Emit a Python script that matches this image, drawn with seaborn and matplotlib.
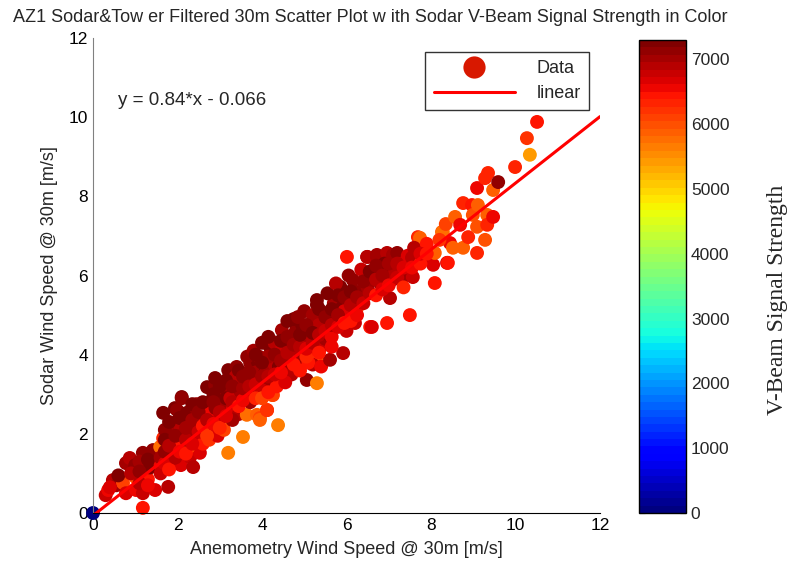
import numpy as np
import pandas as pd
import matplotlib
matplotlib.use("Agg")
import matplotlib.pyplot as plt
from matplotlib.lines import Line2D
from matplotlib.colors import Normalize
from matplotlib.cm import ScalarMappable
import seaborn as sns

# ---------------- data ----------------
x1 = [0.0, 0.3, 0.36, 0.47, 0.55, 0.71, 0.78, 0.78, 0.87, 1.0, 1.0, 1.02, 1.18, 1.18, 1.18, 1.25, 1.42, 1.47, 1.5, 0.6, 0.9, 1.1, 1.3, 0.4, 1.35]
y1 = [0.0, 0.45, 0.58, 0.83, 0.7, 0.76, 0.5, 1.26, 1.39, 1.21, 0.91, 0.58, 1.52, 0.5, 0.13, 1.01, 1.59, 0.58, 1.29, 0.95, 1.0, 1.3, 0.85, 0.65, 1.15]
s1 = [100, 6800, 6600, 6850, 7050, 6050, 6700, 7000, 6900, 7100, 5950, 6600, 7100, 6800, 6450, 6150, 7100, 6700, 7050, 7200, 6850, 7000, 6500, 6700, 7200]

x2 = [1.59, 1.66, 1.66, 1.78, 1.82, 1.89, 1.94, 1.99, 1.99, 2.08, 2.08, 2.1, 2.1, 2.13, 2.22, 2.22, 2.3, 2.37, 2.37, 2.46, 2.53, 2.53, 1.6, 1.75, 1.9, 2.0, 2.15, 2.3, 2.4, 2.5, 1.7, 2.25, 1.85, 2.45]
y2 = [1.67, 1.89, 2.53, 0.66, 1.26, 2.02, 2.65, 2.22, 2.6, 2.17, 1.21, 2.93, 2.9, 1.77, 2.43, 2.53, 1.41, 2.22, 1.16, 2.6, 1.52, 1.84, 1.2, 1.45, 1.6, 1.75, 2.0, 2.0, 1.9, 2.3, 2.1, 1.65, 1.35, 2.75]
s2 = [5750, 6350, 7200, 6900, 6850, 7000, 7200, 7050, 7100, 6900, 6700, 7200, 7100, 6500, 7000, 7250, 6800, 7050, 6850, 7100, 6700, 6450, 6600, 6200, 6850, 6500, 7050, 6700, 7000, 7250, 7100, 6150, 6800, 7050]

x3 = [2.7, 2.7, 2.77, 2.79, 2.89, 2.89, 3.0, 3.05, 3.08, 3.2, 3.2, 3.24, 3.4, 3.43, 3.48, 2.6, 2.65, 2.8, 2.9, 3.0, 3.1, 3.15, 3.3, 3.35, 3.45, 2.6, 2.75, 2.95, 3.1, 3.3, 2.85, 3.25, 3.5, 3.38]
y3 = [3.18, 2.78, 2.1, 2.27, 3.23, 3.41, 2.98, 2.27, 2.27, 1.52, 3.61, 3.11, 3.69, 2.85, 3.28, 2.0, 2.45, 2.55, 2.65, 2.4, 2.7, 2.9, 2.6, 3.0, 2.5, 1.75, 1.85, 1.95, 2.1, 2.35, 3.0, 2.9, 3.05, 3.45]
s3 = [7200, 7050, 7000, 6850, 7100, 7250, 7050, 5700, 5750, 5650, 7200, 7000, 7100, 6850, 7250, 6900, 6700, 6600, 7100, 6800, 7050, 7200, 6700, 7000, 6850, 6500, 6250, 6700, 6050, 7000, 7200, 6800, 7050, 6900]

x4 = [3.55, 3.64, 3.72, 3.72, 3.72, 3.88, 3.9, 3.95, 3.95, 3.95, 4.12, 4.12, 4.19, 4.19, 4.19, 4.24, 4.26, 4.38, 4.43, 4.47, 4.47, 4.5, 3.6, 3.7, 3.8, 3.85, 4.0, 4.05, 4.1, 4.2, 4.3, 4.35, 4.4, 3.65, 3.8, 4.0, 4.15, 4.3, 3.5, 4.45]
y4 = [1.92, 2.48, 2.8, 3.44, 3.79, 2.48, 3.82, 2.4, 2.35, 3.94, 2.6, 2.6, 3.28, 4.19, 4.37, 2.98, 2.98, 2.22, 3.99, 3.36, 4.62, 3.44, 3.1, 3.0, 3.3, 3.55, 3.1, 3.5, 3.7, 3.55, 3.75, 3.2, 3.7, 3.95, 4.1, 4.3, 3.95, 4.3, 3.55, 4.1]
s4 = [5650, 5750, 7000, 7200, 7100, 5850, 7250, 6050, 5850, 7050, 6350, 6250, 7050, 7200, 7100, 5850, 6050, 5650, 7000, 6800, 7050, 7200, 6850, 6700, 7100, 7000, 6800, 7250, 6900, 7050, 6850, 6500, 7200, 7100, 7000, 7250, 7050, 6900, 6600, 6800]

x5 = [4.71, 4.85, 5.06, 5.06, 5.3, 5.3, 5.33, 5.44, 5.3, 5.49, 4.6, 4.65, 4.7, 4.8, 4.9, 4.95, 5.0, 5.1, 5.15, 5.2, 5.25, 5.4, 5.45, 4.55, 4.75, 4.9, 5.0, 5.2, 5.35, 4.6, 4.8, 5.1, 5.4, 5.5, 4.85, 5.05, 5.25]
y5 = [4.37, 3.79, 4.32, 3.36, 5.38, 5.26, 3.99, 4.55, 3.28, 5.05, 3.8, 4.2, 3.5, 4.6, 4.0, 4.75, 4.4, 4.1, 4.7, 3.75, 4.45, 4.2, 4.85, 3.3, 4.9, 3.6, 5.1, 5.0, 4.75, 4.85, 4.15, 3.8, 3.7, 4.4, 4.95, 4.55, 4.15]
s5 = [5950, 7050, 5850, 7100, 7200, 7250, 5850, 7050, 5650, 6900, 7000, 7200, 6850, 7100, 7000, 7250, 7050, 6800, 7200, 6850, 7000, 6800, 7100, 6700, 7200, 6500, 7100, 7050, 6850, 7250, 6900, 6450, 6600, 7000, 7100, 6900, 6800]

x6 = [5.61, 5.68, 5.85, 5.85, 5.92, 6.01, 6.01, 6.15, 6.15, 6.25, 6.39, 6.39, 5.6, 5.7, 5.8, 5.9, 6.0, 6.1, 6.2, 6.3, 6.45, 5.55, 5.75, 5.95, 6.05, 6.35, 5.65, 6.2, 6.5]
y6 = [3.87, 4.95, 5.71, 5.71, 4.04, 5.46, 6.47, 5.13, 5.89, 5.18, 5.56, 5.56, 4.5, 5.3, 4.9, 5.2, 4.6, 5.0, 5.6, 5.4, 5.9, 5.55, 5.8, 5.1, 6.0, 6.15, 4.2, 4.8, 5.7]
s6 = [7000, 7050, 7100, 7200, 6850, 7050, 6500, 5950, 7100, 6050, 7100, 7000, 7200, 7050, 6900, 7250, 6800, 7000, 7100, 6850, 7050, 7200, 6900, 6700, 7100, 6800, 6600, 6800, 7000]

x7 = [6.49, 6.49, 6.56, 6.6, 6.72, 6.72, 6.96, 6.96, 6.96, 7.03, 7.1, 7.2, 7.27, 7.5, 6.6, 6.8, 6.9, 7.1, 7.3, 7.4, 6.75, 7.15, 7.45]
y7 = [6.47, 6.47, 4.7, 4.7, 6.47, 6.52, 6.57, 6.06, 4.8, 5.43, 6.52, 6.57, 6.14, 5.0, 6.0, 5.8, 6.3, 5.9, 6.3, 6.0, 6.2, 6.1, 6.5]
s7 = [6850, 6900, 6500, 6700, 7050, 7000, 6850, 7100, 6500, 6900, 7000, 7100, 5850, 6500, 7100, 7000, 7200, 6900, 6800, 7050, 7200, 6850, 6700]

x8 = [7.57, 7.69, 7.74, 7.81, 7.81, 8.05, 8.05, 8.09, 8.09, 8.26, 8.28, 8.38, 8.4, 8.45, 8.52, 7.6, 7.9, 8.2, 8.35]
y8 = [5.96, 6.97, 6.95, 6.39, 6.64, 6.57, 6.27, 6.57, 5.81, 7.1, 7.1, 6.32, 6.32, 6.82, 6.7, 6.7, 6.8, 6.9, 7.3]
s8 = [6800, 6350, 5850, 6850, 6600, 5800, 6700, 5900, 6400, 5900, 5800, 6700, 6500, 6600, 5900, 6900, 6400, 6250, 6150]

x9 = [8.57, 8.69, 8.76, 8.76, 8.88, 8.97, 8.99, 9.09, 9.09, 9.09, 9.11, 9.28, 9.28, 9.33, 9.33, 9.35, 9.47, 9.47, 9.59, 9.99, 10.27, 10.34, 10.51]
y9 = [7.48, 7.28, 7.83, 6.7, 6.97, 7.78, 7.53, 8.21, 7.23, 6.57, 7.78, 8.46, 6.9, 7.53, 7.28, 8.59, 8.16, 7.48, 8.36, 8.74, 9.47, 9.05, 9.88]
s9 = [5900, 6600, 6300, 5850, 6300, 6500, 5950, 6550, 5950, 6300, 5900, 6300, 5950, 5850, 6300, 6300, 5900, 6550, 7100, 6300, 6250, 5450, 6500]

xA = [1.1, 1.1, 1.3, 1.3, 1.6, 1.6, 1.7, 1.7, 1.7, 1.8, 1.8, 1.8, 1.95, 1.95, 2.05, 2.05, 2.2, 2.2, 2.2, 2.35, 2.35, 2.35, 2.5, 2.5, 2.6, 2.6, 2.7, 2.7, 2.85, 2.85, 3.0, 3.0, 3.0, 3.15, 3.15, 3.3, 3.3, 3.45, 3.45, 3.55, 3.55, 3.55, 3.7, 3.7, 3.85, 3.85, 3.85]
yA = [0.75, 1.05, 0.7, 1.35, 1.0, 1.4, 1.25, 1.55, 1.85, 1.1, 1.7, 2.3, 1.4, 1.95, 1.55, 2.4, 1.5, 1.85, 2.15, 1.75, 2.35, 2.75, 2.05, 2.55, 2.2, 2.8, 1.95, 2.35, 2.25, 2.8, 2.15, 2.55, 3.2, 2.45, 3.35, 2.8, 3.2, 2.7, 3.6, 2.85, 3.15, 3.45, 3.2, 3.55, 2.9, 3.25, 4.0]
sA = [6900, 7100, 6600, 7200, 6800, 7000, 6700, 7100, 7250, 6500, 6900, 7200, 6850, 7100, 6600, 7250, 6400, 6900, 7050, 6700, 7000, 7200, 6800, 7100, 6500, 7200, 6200, 6900, 6600, 7150, 6300, 6850, 7200, 6700, 7250, 6950, 7100, 6450, 7200, 6600, 7000, 7150, 6900, 7100, 6300, 6800, 7250]

xB = [4.0, 4.0, 4.0, 4.15, 4.15, 4.15, 4.3, 4.3, 4.45, 4.45, 4.45, 4.6, 4.6, 4.75, 4.75, 4.9, 4.9, 5.05, 5.05, 5.05, 5.2, 5.2, 5.35, 5.35, 5.35, 5.5, 5.5, 5.65, 5.65, 5.65, 5.8, 5.8, 5.8, 5.95, 5.95, 6.1, 6.1, 6.1, 6.25, 6.25, 6.4, 6.4, 6.55, 6.55, 6.7, 6.7, 6.7, 6.85, 6.85, 7.0, 7.0, 7.2, 7.2, 7.35, 7.35, 7.55, 7.55, 7.75, 7.75, 7.9]
yB = [3.45, 3.8, 2.9, 3.05, 3.45, 4.45, 3.5, 4.0, 3.55, 3.85, 4.35, 4.05, 4.45, 3.75, 4.25, 4.2, 4.5, 3.95, 4.15, 4.75, 4.3, 4.55, 4.05, 4.5, 5.15, 4.6, 4.95, 4.45, 4.75, 5.15, 4.7, 5.0, 5.5, 4.8, 5.45, 5.25, 5.6, 4.85, 5.45, 5.0, 5.3, 5.85, 5.55, 6.1, 5.5, 5.9, 6.25, 5.65, 6.0, 5.75, 6.3, 5.95, 6.3, 6.2, 5.7, 6.45, 6.2, 6.3, 6.55, 6.55]
sB = [7000, 7200, 6100, 6500, 6900, 7250, 6800, 7100, 6600, 7000, 7200, 6900, 7150, 6400, 7050, 6850, 7200, 6300, 6700, 7100, 6900, 7200, 6500, 6950, 7250, 6800, 7100, 6600, 6950, 7200, 6700, 7050, 7250, 6500, 7100, 6900, 7200, 6400, 7000, 6600, 6800, 7150, 6900, 7200, 6500, 6950, 7100, 6700, 7050, 6600, 7000, 6800, 6900, 6700, 6300, 6850, 6600, 6500, 6700, 6400]

fit_slope = 0.84
fit_intercept = -0.066
fit_x = [0, 12]

xticks = [0, 2, 4, 6, 8, 10, 12]
yticks = [0, 2, 4, 6, 8, 10, 12]
cbar_ticks = [0, 1000, 2000, 3000, 4000, 5000, 6000, 7000]
signal_max = 7300

df = pd.DataFrame({
    "anem": x1 + x2 + x3 + x4 + x5 + x6 + x7 + x8 + x9 + xA + xB,
    "sodar": y1 + y2 + y3 + y4 + y5 + y6 + y7 + y8 + y9 + yA + yB,
    "signal": s1 + s2 + s3 + s4 + s5 + s6 + s7 + s8 + s9 + sA + sB,
})
fit_df = pd.DataFrame({"x": fit_x,
                       "y": [fit_slope * v + fit_intercept for v in fit_x]})

# ---------------- style ----------------
sns.set_style("white")
plt.rcParams["font.family"] = ["Liberation Sans", "DejaVu Sans"]
plt.rcParams["xtick.direction"] = "in"
plt.rcParams["ytick.direction"] = "in"

cmap = plt.get_cmap("jet", 64)
norm = Normalize(vmin=0, vmax=signal_max)

fig = plt.figure(figsize=(7.96, 5.70), dpi=100)
ax = fig.add_axes([93 / 796, 1 - 513 / 570, 507 / 796, 475 / 570])
cax = fig.add_axes([639 / 796, 1 - 513 / 570, 47 / 796, 473 / 570])

sns.scatterplot(data=df, x="anem", y="sodar", hue="signal", palette=cmap,
                hue_norm=norm, s=100, linewidth=0, edgecolor="none",
                legend=False, ax=ax, zorder=2, clip_on=False)
sns.lineplot(data=fit_df, x="x", y="y", color="#ff0000", linewidth=2.2,
             ax=ax, zorder=3)

ax.set_xlim(0, 12)
ax.set_ylim(0, 12)
ax.set_xticks(xticks)
ax.set_yticks(yticks)
ax.tick_params(labelsize=12.5, length=4, width=0.8, colors="black")
for side in ["top", "right"]:
    ax.spines[side].set_visible(False)
ax.spines["left"].set_color("#808080")
ax.spines["bottom"].set_color("black")
ax.set_xlabel("Anemometry Wind Speed @ 30m [m/s]", fontsize=13, labelpad=6)
ax.set_ylabel("Sodar Wind Speed @ 30m [m/s]", fontsize=13, labelpad=8)
ax.set_facecolor("white")

ax.text(0.59, 10.43, "y = 0.84*x - 0.066", fontsize=13.5, va="center", ha="left")

handles = [
    Line2D([0], [0], marker="o", linestyle="none", markersize=16,
           markerfacecolor="#d81800", markeredgecolor="none"),
    Line2D([0], [0], color="#ff0000", linewidth=2.2),
]
leg = ax.legend(handles, ["Data", "linear"], loc="upper right",
                bbox_to_anchor=(0.978, 0.9705), borderaxespad=0, fontsize=13,
                frameon=True, fancybox=False, edgecolor="black",
                handlelength=4.5, handletextpad=1.2, borderpad=0.45,
                labelspacing=0.45)
leg.get_frame().set_linewidth(1.0)

sm = ScalarMappable(norm=norm, cmap=cmap)
cb = fig.colorbar(sm, cax=cax, ticks=cbar_ticks)
cb.outline.set_edgecolor("black")
cb.outline.set_linewidth(1.0)
cax.tick_params(labelsize=12.5, direction="in", length=4, left=True, right=True)
fig.text(778 / 796, 1 - 300 / 570, "V-Beam Signal Strength", rotation=90,
         fontsize=17, family=["Liberation Serif", "DejaVu Serif"],
         ha="center", va="center")

fig.text(370 / 796, 1 - 18 / 570,
         "AZ1 Sodar&Tow er Filtered 30m Scatter Plot w ith Sodar V-Beam Signal Strength in Color",
         fontsize=13, ha="center", va="center")

fig.savefig("out.png", dpi=100, facecolor="white")
